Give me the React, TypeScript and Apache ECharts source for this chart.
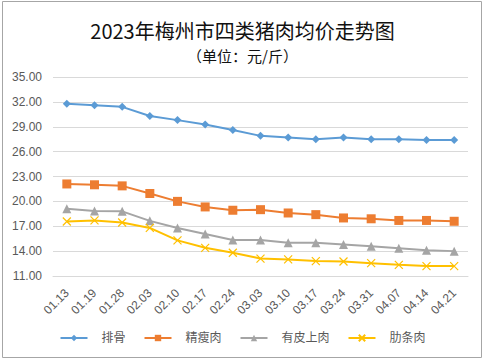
import React, { useEffect, useRef } from "react";
import * as echarts from "echarts";

const dates = ["01.13", "01.19", "01.28", "02.03", "02.10", "02.17", "02.24", "03.03", "03.10", "03.17", "03.24", "03.31", "04.07", "04.14", "04.21"];
const paigu = [31.77, 31.6, 31.4, 30.3, 29.8, 29.28, 28.6, 27.9, 27.7, 27.5, 27.7, 27.5, 27.5, 27.4, 27.4];
const jingshourou = [22.1, 22.0, 21.87, 20.95, 20.0, 19.33, 18.93, 19.0, 18.6, 18.4, 18.0, 17.9, 17.7, 17.7, 17.6];
const youpishangrou = [19.1, 18.85, 18.8, 17.65, 16.8, 16.07, 15.35, 15.35, 15.0, 15.0, 14.8, 14.6, 14.35, 14.1, 14.0];
const leitiaorou = [17.57, 17.7, 17.45, 16.8, 15.3, 14.4, 13.8, 13.1, 13.0, 12.8, 12.75, 12.55, 12.35, 12.2, 12.2];
const seriesNames = ["排骨", "精瘦肉", "有皮上肉", "肋条肉"];
const yMin = 11;
const yMax = 35;
const yStep = 3;

const colors = ["#5B9BD5", "#ED7D31", "#A5A5A5", "#FFC000"];
const symbols = ["diamond", "rect", "triangle", "path://M0,0 L10,10 M10,0 L0,10"];
const symbolSizes = [8, 9, 9, 8];

export default function App() {
  const ref = useRef<HTMLDivElement>(null);
  useEffect(() => {
    if (!ref.current) return;
    const chart = echarts.init(ref.current, null, { renderer: "svg" });
    const all = [paigu, jingshourou, youpishangrou, leitiaorou];
    const font = "'Liberation Sans', 'Noto Sans CJK SC', sans-serif";
    chart.setOption({
      animation: false,
      backgroundColor: "#ffffff",
      title: [
        {
          text: "2023年梅州市四类猪肉均价走势图",
          left: "center",
          top: 15,
          textStyle: { fontSize: 20, fontWeight: "normal", color: "#111", fontFamily: "'Noto Sans CJK SC', sans-serif" },
        },
        {
          text: "（单位：元/斤）",
          left: "center",
          top: 43,
          textStyle: { fontSize: 15, fontWeight: "normal", color: "#111", fontFamily: "'Noto Sans CJK SC', sans-serif" },
        },
      ],
      graphic: [
        {
          type: "rect",
          shape: { x: 2.5, y: 1.5, width: 479, height: 356 },
          style: { fill: "none", stroke: "#a6a6a6", lineWidth: 1 },
          silent: true,
        },
      ],
      grid: { left: 53, right: 17, top: 77, bottom: 85, containLabel: false },
      legend: {
        bottom: 12,
        left: "center",
        itemWidth: 27,
        itemHeight: 8,
        itemGap: 18,
        textStyle: { fontSize: 12, color: "#595959", padding: [0, 0, 0, 9], fontFamily: font },
        data: seriesNames,
      },
      xAxis: {
        type: "category",
        data: dates,
        boundaryGap: true,
        axisLine: { lineStyle: { color: "#d9d9d9" } },
        axisTick: { show: false },
        axisLabel: { rotate: 45, fontSize: 12, color: "#595959", margin: 15, fontFamily: font, interval: 0 },
      },
      yAxis: {
        type: "value",
        min: 0,
        max: yMax - yMin,
        interval: yStep,
        axisLine: { show: false },
        axisTick: { show: false },
        axisLabel: {
          fontSize: 12,
          color: "#595959",
          margin: 11,
          fontFamily: font,
          formatter: (v: number) => (v + yMin).toFixed(2),
        },
        splitLine: { lineStyle: { color: "#d9d9d9" } },
      },
      series: all.map((arr, i) => ({
        name: seriesNames[i],
        type: "line",
        data: arr.map((v) => +(v - yMin).toFixed(3)),
        symbol: symbols[i],
        symbolSize: symbolSizes[i],
        lineStyle: { color: colors[i], width: 2 },
        itemStyle: { color: colors[i], borderColor: colors[i], borderWidth: i === 3 ? 1.2 : 0 },
      })),
    });
    return () => chart.dispose();
  }, []);
  return (
    <div
      ref={ref}
      style={{ position: "fixed", left: 0, top: 0, width: 485, height: 361 }}
    />
  );
}
